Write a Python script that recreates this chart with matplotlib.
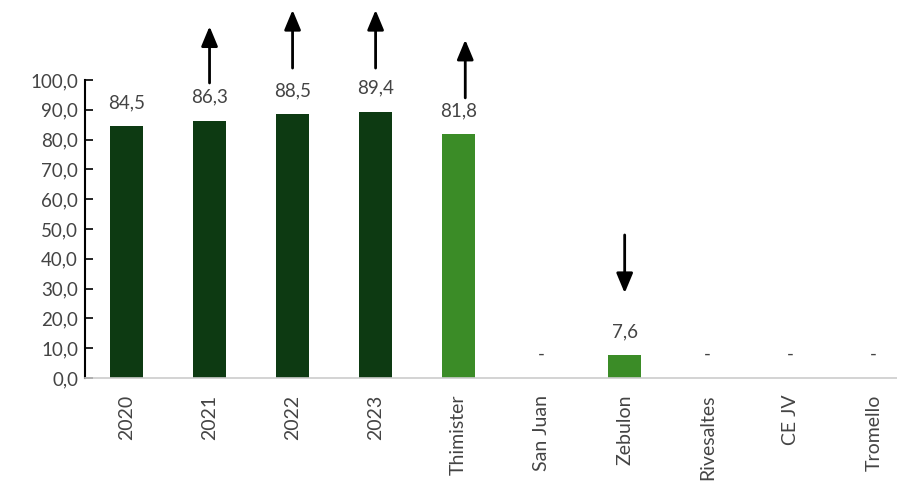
import matplotlib
matplotlib.use("Agg")
import matplotlib.pyplot as plt

categories = ["2020", "2021", "2022", "2023", "Thimister", "San Juan", "Zebulon", "Rivesaltes", "CE JV", "Tromello"]
values = [84.5, 86.3, 88.5, 89.4, 81.8, None, 7.6, None, None, None]
labels = ["84,5", "86,3", "88,5", "89,4", "81,8", "-", "7,6", "-", "-", "-"]
dark_idx = [0, 1, 2, 3]
yticks = [0, 10, 20, 30, 40, 50, 60, 70, 80, 90, 100]
ytick_labels = ["0,0", "10,0", "20,0", "30,0", "40,0", "50,0", "60,0", "70,0", "80,0", "90,0", "100,0"]
# arrows: (category index, tail y, head y)
arrows = [(1, 99, 118), (2, 104, 123.5), (3, 104, 123.5), (4.08, 94, 113.5), (6, 48, 28.5)]

DARK = "#0d3a12"
LIGHT = "#3b8c27"
TXT = "#444444"

plt.rcParams['font.family'] = ['Lato', 'DejaVu Sans']

fig = plt.figure(figsize=(8.97, 4.83), dpi=100)
ax = fig.add_axes([85/897, 1-378/483, 1-85/897, (378-80)/483])

xs = list(range(len(categories)))
for i, v in enumerate(values):
    if v is not None:
        ax.bar(i, v, width=0.4, color=DARK if i in dark_idx else LIGHT, zorder=2)
    ax.annotate(labels[i], (i, v if v is not None else 0), xytext=(0, 17), textcoords="offset points",
                ha="center", va="center", fontsize=13.5, color=TXT)

for x, y0, y1 in arrows:
    ax.annotate("", xy=(x, y1), xytext=(x, y0), annotation_clip=False,
                arrowprops=dict(arrowstyle="-|>,head_width=0.5,head_length=1.2", color="black", lw=2,
                                shrinkA=0, shrinkB=0))

ax.set_xlim(-0.5, 9.28)
ax.set_ylim(0, 100)
ax.set_yticks(yticks)
ax.set_yticklabels(ytick_labels)
ax.set_xticks(xs)
ax.set_xticklabels(categories, rotation=90)
ax.tick_params(axis="y", direction="in", length=6, width=1.2, colors="black", labelcolor=TXT, labelsize=13.5, pad=5)
ax.tick_params(axis="x", length=0, labelcolor=TXT, labelsize=14, pad=12)
for s in ["top", "right"]:
    ax.spines[s].set_visible(False)
ax.spines["left"].set_color("black")
ax.spines["left"].set_linewidth(1.5)
ax.spines["bottom"].set_color("#cccccc")
ax.spines["bottom"].set_linewidth(1.2)

fig.savefig("out.png", dpi=100)
